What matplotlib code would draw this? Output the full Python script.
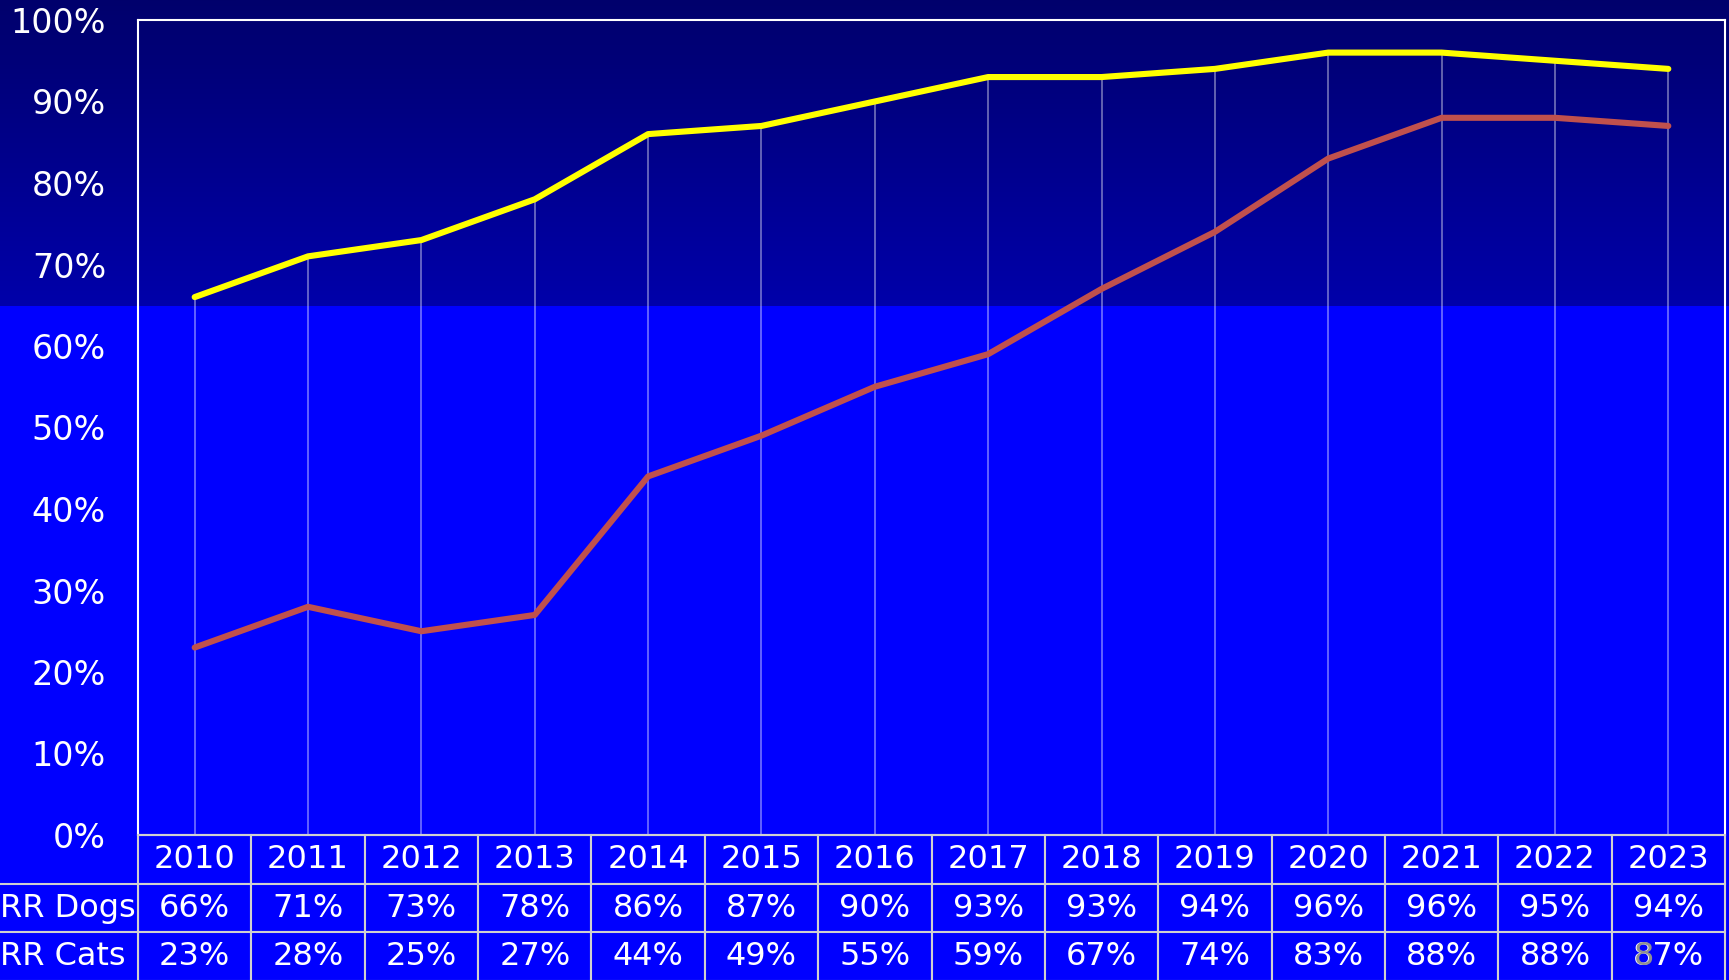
import matplotlib
matplotlib.use('Agg')
import matplotlib.pyplot as plt
import numpy as np
from matplotlib.colors import LinearSegmentedColormap

# data
years = [2010, 2011, 2012, 2013, 2014, 2015, 2016, 2017, 2018, 2019, 2020, 2021, 2022, 2023]
rr_dogs = [66, 71, 73, 78, 86, 87, 90, 93, 93, 94, 96, 96, 95, 94]
rr_cats = [23, 28, 25, 27, 44, 49, 55, 59, 67, 74, 83, 88, 88, 87]
row_names = ['RR Dogs', 'RR Cats']

fig = plt.figure(figsize=(17.29, 9.80), dpi=100)
fig.patch.set_facecolor('#0000FF')

# gradient band at the top of the slide
bg = fig.add_axes([0, 0, 1, 1], zorder=-10)
bg.axis('off')
grad = np.linspace(0, 1, 256).reshape(-1, 1)
cmap = LinearSegmentedColormap.from_list('g', ['#00006C', '#0000AA'])
bg.imshow(grad, extent=[0, 1, 1 - 306 / 980, 1], aspect='auto', cmap=cmap)
bg.set_xlim(0, 1)
bg.set_ylim(0, 1)

ax = fig.add_axes([138 / 1729, 145 / 980, 1587 / 1729, 815 / 980])
ax.patch.set_alpha(0)

x = np.arange(len(years))
ax.vlines(x, 0, rr_dogs, colors=[(1, 1, 1, 0.45)], lw=1.2)
ax.plot(x, rr_dogs, color='#FFFF00', lw=4.4, solid_capstyle='round')
ax.plot(x, rr_cats, color='#C0504D', lw=4.4, solid_capstyle='round')

ax.set_xlim(-0.5, len(years) - 0.5)
ax.set_ylim(0, 100)
ax.set_xticks([])
ax.set_yticks(range(0, 101, 10))
ax.set_yticklabels([f'{v}%' for v in range(0, 101, 10)])
ax.tick_params(axis='y', length=0, pad=23, labelsize=24, labelcolor='white')
for s in ax.spines.values():
    s.set_color('white')
    s.set_linewidth(1.5)
ax.spines['bottom'].set_color('#D0D0D0')

# data table under the plot
h = 146 / 815
tbl = ax.table(cellText=[[f'{v}%' for v in rr_dogs], [f'{v}%' for v in rr_cats]],
               colLabels=[str(y) for y in years], cellLoc='center',
               bbox=[0, -h, 1, h])
tbl.auto_set_font_size(False)
tbl.set_fontsize(23)
for cell in tbl.get_celld().values():
    cell.set_facecolor('#0000FF')
    cell.set_edgecolor('#D0D0D0')
    cell.set_linewidth(1.5)
    cell.get_text().set_color('white')

lab = ax.table(cellText=[[''], ['']], bbox=[-0.12, -h, 0.12, h * 2 / 3])
for cell in lab.get_celld().values():
    cell.set_facecolor('#0000FF')
    cell.set_edgecolor('#D0D0D0')
    cell.set_linewidth(1.5)
for i, name in enumerate(row_names):
    ax.text(-138 / 1587, -h * (1.5 + i) / 3, name, transform=ax.transAxes,
            ha='left', va='center', color='white', fontsize=23, clip_on=False)

# slide number peeking through
fig.text(1644 / 1729, 1 - 956 / 980, '8', color='#909090', fontsize=23,
         ha='center', va='center')

fig.savefig('out.png', dpi=100, facecolor=fig.get_facecolor())
